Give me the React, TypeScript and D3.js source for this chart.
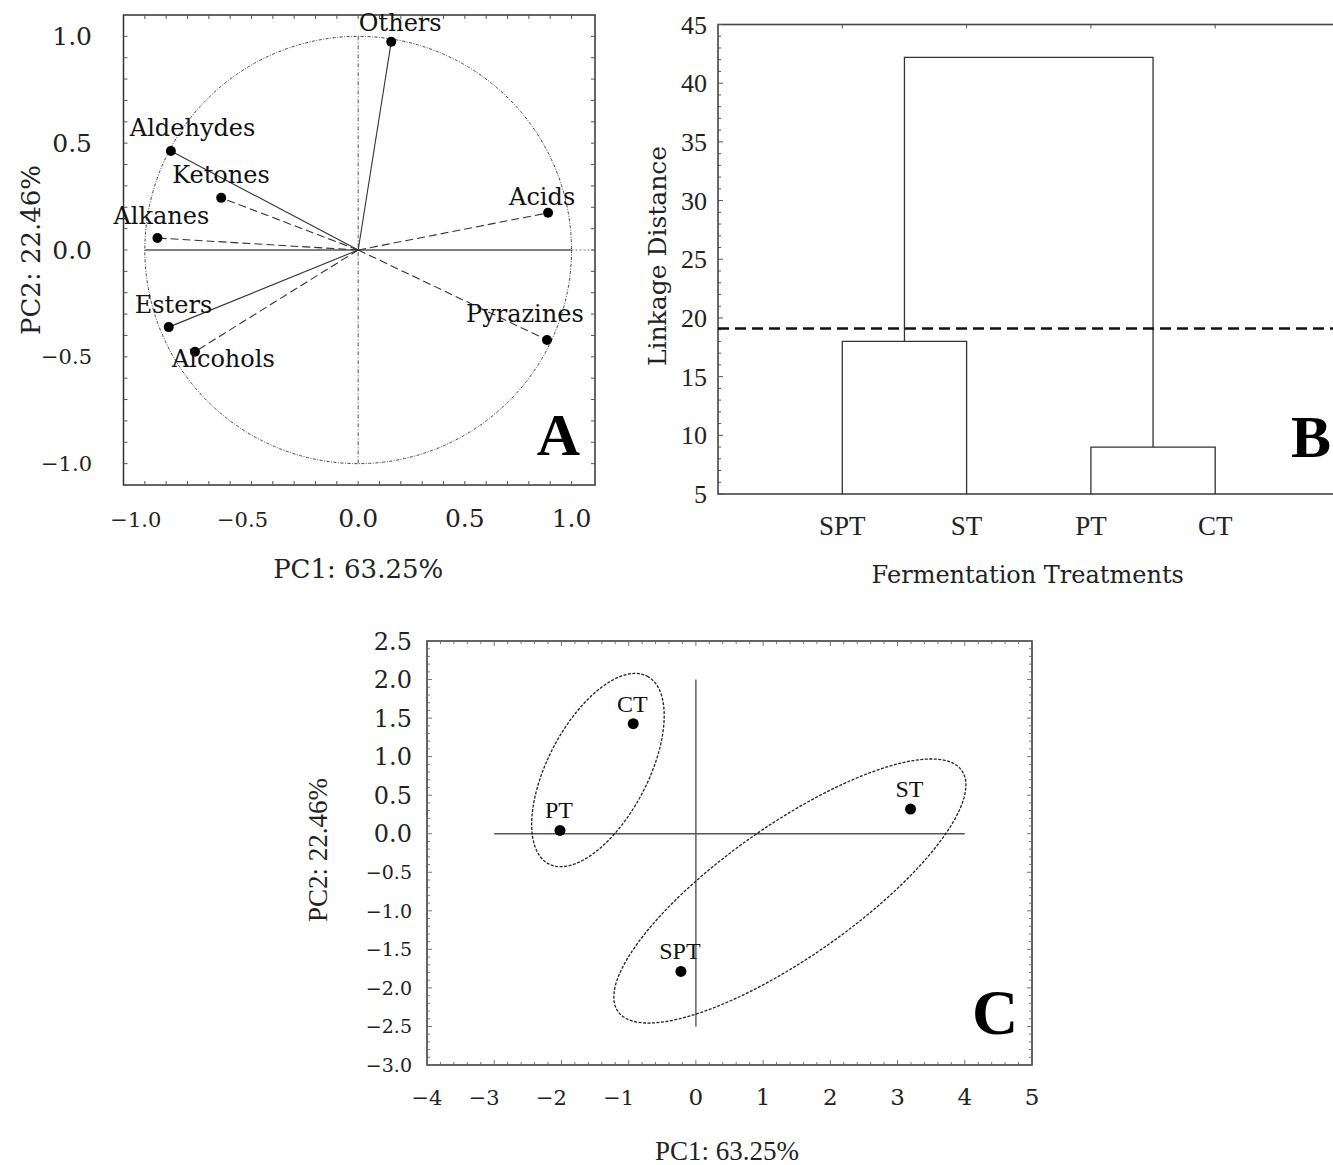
import React from "react";
import * as d3 from "d3";

const W = 1333;
const H = 1165;

// ---------- Panel A: PCA loadings ----------
const loadingNames = ["Others", "Aldehydes", "Ketones", "Alkanes", "Acids", "Esters", "Alcohols", "Pyrazines"];
const loadingPC1 = [0.155, -0.878, -0.642, -0.941, 0.89, -0.888, -0.765, 0.885];
const loadingPC2 = [0.975, 0.463, 0.244, 0.056, 0.174, -0.361, -0.476, -0.421];
const loadingDashed = [false, false, true, true, true, false, true, true];
const loadingTicks = [-1.0, -0.5, 0.0, 0.5, 1.0];

// ---------- Panel B: dendrogram ----------
const leafNames = ["SPT", "ST", "PT", "CT"];
const mergeIds = ["C1", "C2", "C3"];
const mergeLeft = ["SPT", "PT", "C1"];
const mergeRight = ["ST", "CT", "C2"];
const mergeHeight = [18.0, 9.0, 42.2];
const cutoffDistance = 19.1;
const linkageTicks = [5, 10, 15, 20, 25, 30, 35, 40, 45];

// ---------- Panel C: PCA scores ----------
const scoreNames = ["CT", "PT", "ST", "SPT"];
const scorePC1 = [-0.932, -2.022, 3.193, -0.223];
const scorePC2 = [1.427, 0.043, 0.32, -1.786];
const ellipseCenterPC1 = [-1.457, 1.398];
const ellipseCenterPC2 = [0.826, -0.743];
const ellipseAxisU = [[0.734, 1.217], [2.558, 1.563]];
const ellipseAxisV = [[0.658, -0.302], [0.563, -0.701]];
const scoreTicksX = [-4, -3, -2, -1, 0, 1, 2, 3, 4, 5];
const scoreTicksY = [-3.0, -2.5, -2.0, -1.5, -1.0, -0.5, 0.0, 0.5, 1.0, 1.5, 2.0, 2.5];

const wide = "'DejaVu Serif', serif";
const times = "'Liberation Serif', 'Times New Roman', serif";

// label offsets (styling only)
const labelOffsets: Record<string, [number, number, string]> = {
  Others: [9, -11, "middle"],
  Aldehydes: [-41, -15, "start"],
  Ketones: [-49, -15, "start"],
  Alkanes: [-44, -14, "start"],
  Acids: [-39, -8, "start"],
  Esters: [-34, -14, "start"],
  Alcohols: [-23, 15, "start"],
  Pyrazines: [-81, -18, "start"],
};

function PanelA() {
  const x = d3.scaleLinear().domain([-1.1, 1.11]).range([123.5, 595]);
  const y = d3.scaleLinear().domain([-1.1, 1.1]).range([485, 15]);
  const fmt = d3.format(".1f");
  const minor = d3.range(-11, 12).map((i) => i / 10).filter((v) => v > -1.1 && v < 1.1);
  const x0 = x(0), y0 = y(0);
  return (
    <g>
      <rect x={x(-1.1)} y={y(1.1)} width={x(1.11) - x(-1.1)} height={y(-1.1) - y(1.1)} fill="none" stroke="#333" strokeWidth={1.5} />
      {minor.map((v, i) => (
        <g key={"m" + i} stroke="#555" strokeWidth={1}>
          <line x1={x(v)} x2={x(v)} y1={y(-1.1)} y2={y(-1.1) - 4} />
          <line x1={x(v)} x2={x(v)} y1={y(1.1)} y2={y(1.1) + 4} />
          <line x1={x(-1.1)} x2={x(-1.1) + 4} y1={y(v)} y2={y(v)} />
          <line x1={x(1.11)} x2={x(1.11) - 4} y1={y(v)} y2={y(v)} />
        </g>
      ))}
      {/* unit circle */}
      <ellipse cx={x0} cy={y0} rx={x(1) - x0} ry={y0 - y(1)} fill="none" stroke="#444" strokeWidth={1} strokeDasharray="3,1.5,1,1.5" />
      {/* axes */}
      <line x1={x(-1)} x2={x(1)} y1={y0} y2={y0} stroke="#555" strokeWidth={1.3} />
      <line x1={x(1)} x2={x(1.11)} y1={y0} y2={y0} stroke="#777" strokeWidth={1} strokeDasharray="2,2" />
      <line x1={x0} x2={x0} y1={y(1)} y2={y(-1)} stroke="#555" strokeWidth={1} strokeDasharray="4,2,1,2" />
      {/* vectors */}
      {loadingNames.map((n, i) => (
        <line key={"v" + n} x1={x0} y1={y0} x2={x(loadingPC1[i])} y2={y(loadingPC2[i])} stroke="#333" strokeWidth={1.1} strokeDasharray={loadingDashed[i] ? "8,4" : undefined} />
      ))}
      {loadingNames.map((n, i) => (
        <circle key={"p" + n} cx={x(loadingPC1[i])} cy={y(loadingPC2[i])} r={5} fill="#000" />
      ))}
      {loadingNames.map((n, i) => {
        const o = labelOffsets[n];
        return (
          <text key={"t" + n} x={x(loadingPC1[i]) + o[0]} y={y(loadingPC2[i]) + o[1]} textAnchor={o[2] as any} fontFamily={wide} fontSize={24} fill="#111">
            {n}
          </text>
        );
      })}
      {/* tick labels */}
      {loadingTicks.map((v) => (
        <text key={"xt" + v} x={x(v) + (v < 0 ? -9 : 0)} y={527} textAnchor="middle" fontFamily={wide} fontSize={v < 0 ? 21 : 25} fill="#222">
          {fmt(v)}
        </text>
      ))}
      {loadingTicks.map((v) => (
        <text key={"yt" + v} x={92} y={y(v) + (v < 0 ? 7 : 9)} textAnchor="end" fontFamily={wide} fontSize={v < 0 ? 21 : 25} fill="#222">
          {fmt(v)}
        </text>
      ))}
      <text x={x0} y={578} textAnchor="middle" fontFamily={wide} fontSize={26} fill="#222">PC1: 63.25%</text>
      <text transform={`translate(40,${y0}) rotate(-90)`} textAnchor="middle" fontFamily={wide} fontSize={26} fill="#222">PC2: 22.46%</text>
      <text x={580} y={455} textAnchor="end" fontFamily={times} fontWeight="bold" fontSize={60} fill="#000">A</text>
    </g>
  );
}

function PanelB() {
  const x = d3.scaleLinear().domain([0, 5]).range([718, 1339.5]);
  const y = d3.scaleLinear().domain([5, 45]).range([494, 24.5]);
  const pos: Record<string, number> = {};
  const hgt: Record<string, number> = {};
  leafNames.forEach((n, i) => { pos[n] = i + 1; hgt[n] = 5; });
  const links: string[] = [];
  mergeIds.forEach((id, i) => {
    const a = mergeLeft[i], b = mergeRight[i], h = mergeHeight[i];
    const path = d3.path();
    path.moveTo(x(pos[a]), y(hgt[a]));
    path.lineTo(x(pos[a]), y(h));
    path.lineTo(x(pos[b]), y(h));
    path.lineTo(x(pos[b]), y(hgt[b]));
    links.push(path.toString());
    pos[id] = (pos[a] + pos[b]) / 2;
    hgt[id] = h;
  });
  const minor = d3.range(5, 46, 1);
  return (
    <g>
      <rect x={x(0)} y={y(45)} width={x(5) - x(0)} height={y(5) - y(45)} fill="none" stroke="#444" strokeWidth={1.6} />
      {minor.map((v) => (
        <line key={"bm" + v} x1={x(0)} x2={x(0) + (v % 5 === 0 ? 5 : 3)} y1={y(v)} y2={y(v)} stroke="#555" strokeWidth={1} />
      ))}
      {leafNames.map((n, i) => (
        <g key={"bt" + n} stroke="#555" strokeWidth={1}>
          <line x1={x(i + 1)} x2={x(i + 1)} y1={y(45)} y2={y(45) + 4} />
        </g>
      ))}
      {links.map((d, i) => (
        <path key={"l" + i} d={d} fill="none" stroke="#333" strokeWidth={1.3} />
      ))}
      <line x1={x(0)} x2={x(5)} y1={y(cutoffDistance)} y2={y(cutoffDistance)} stroke="#111" strokeWidth={2.3} strokeDasharray="11,6" />
      {linkageTicks.map((v) => (
        <text key={"byt" + v} x={707} y={y(v) + 9} textAnchor="end" fontFamily={times} fontSize={26} fill="#222">{v}</text>
      ))}
      {leafNames.map((n, i) => (
        <text key={"bx" + n} x={x(i + 1)} y={535} textAnchor="middle" fontFamily={times} fontSize={27} fill="#222">{n}</text>
      ))}
      <text x={(x(0) + x(5)) / 2 + softShift()} y={583} textAnchor="middle" fontFamily={wide} fontSize={24} fill="#222">Fermentation Treatments</text>
      <text transform={`translate(666,256) rotate(-90)`} textAnchor="middle" fontFamily={wide} fontSize={25} fill="#222">Linkage Distance</text>
      <text x={1291} y={457} textAnchor="start" fontFamily={times} fontWeight="bold" fontSize={60} fill="#000">B</text>
    </g>
  );
}

function softShift() {
  return -1;
}

function PanelC() {
  const x = d3.scaleLinear().domain([-4, 5]).range([427, 1032]);
  const y = d3.scaleLinear().domain([-3, 2.5]).range([1065, 641]);
  const ts = d3.range(0, 121).map((i) => (i / 120) * Math.PI * 2);
  const line = d3.line<[number, number]>().x((d) => x(d[0])).y((d) => y(d[1])).curve(d3.curveLinearClosed);
  const ellipses = ellipseCenterPC1.map((cx, k) => {
    const cy = ellipseCenterPC2[k];
    const U = ellipseAxisU[k], V = ellipseAxisV[k];
    const pts: [number, number][] = ts.slice(0, 120).map((t) => [cx + U[0] * Math.cos(t) + V[0] * Math.sin(t), cy + U[1] * Math.cos(t) + V[1] * Math.sin(t)]);
    return line(pts) as string;
  });
  const fmtY = d3.format(".1f");
  const fmtX = d3.format("d");
  const minorX = d3.range(-40, 51, 2).map((i) => i / 10);
  const minorY = d3.range(-30, 26, 1).map((i) => i / 10);
  return (
    <g>
      <rect x={x(-4)} y={y(2.5)} width={x(5) - x(-4)} height={y(-3) - y(2.5)} fill="none" stroke="#333" strokeWidth={1.5} />
      {minorX.map((v, i) => (
        <g key={"cmx" + i} stroke="#666" strokeWidth={0.9}>
          <line x1={x(v)} x2={x(v)} y1={y(-3)} y2={y(-3) - (Number.isInteger(v) ? 5 : 3)} />
          <line x1={x(v)} x2={x(v)} y1={y(2.5)} y2={y(2.5) + (Number.isInteger(v) ? 5 : 3)} />
        </g>
      ))}
      {minorY.map((v, i) => (
        <g key={"cmy" + i} stroke="#666" strokeWidth={0.9}>
          <line x1={x(-4)} x2={x(-4) + (Math.abs(v * 2 - Math.round(v * 2)) < 1e-6 ? 5 : 3)} y1={y(v)} y2={y(v)} />
          <line x1={x(5)} x2={x(5) - (Math.abs(v * 2 - Math.round(v * 2)) < 1e-6 ? 5 : 3)} y1={y(v)} y2={y(v)} />
        </g>
      ))}
      <line x1={x(-3)} x2={x(4)} y1={y(0)} y2={y(0)} stroke="#555" strokeWidth={1.4} />
      <line x1={x(0)} x2={x(0)} y1={y(2)} y2={y(-2.5)} stroke="#555" strokeWidth={1.4} />
      {ellipses.map((d, i) => (
        <path key={"e" + i} d={d} fill="none" stroke="#222" strokeWidth={1.3} strokeDasharray="3,1.5" />
      ))}
      {scoreNames.map((n, i) => (
        <circle key={"cp" + n} cx={x(scorePC1[i])} cy={y(scorePC2[i])} r={5.5} fill="#000" />
      ))}
      {scoreNames.map((n, i) => (
        <text key={"ct" + n} x={x(scorePC1[i]) - 1} y={y(scorePC2[i]) - 12} textAnchor="middle" fontFamily={times} fontSize={24} fill="#111">{n}</text>
      ))}
      {scoreTicksY.map((v) => (
        <text key={"cyt" + v} x={412} y={y(v) + (v < 0 ? 7 : 8.5)} textAnchor="end" fontFamily={wide} fontSize={v < 0 ? 19 : 24} fill="#222">{fmtY(v)}</text>
      ))}
      {scoreTicksX.map((v) => (
        <text key={"cxt" + v} x={x(v) + (v < 0 && v > -4 ? -10 : 0)} y={1105} textAnchor="middle" fontFamily={wide} fontSize={v < 0 ? 21 : 23} fill="#222">{fmtX(v)}</text>
      ))}
      <text x={727} y={1160} textAnchor="middle" fontFamily={times} fontSize={27} fill="#222">PC1: 63.25%</text>
      <text transform={`translate(327,850) rotate(-90)`} textAnchor="middle" fontFamily={times} fontSize={27} fill="#222">PC2: 22.46%</text>
      <text x={972} y={1034} textAnchor="start" fontFamily={times} fontWeight="bold" fontSize={64} fill="#000">C</text>
    </g>
  );
}

export default function App() {
  return (
    <svg width={W} height={H} viewBox={`0 0 ${W} ${H}`} style={{ position: "absolute", left: 0, top: 0, background: "#fff" }}>
      <rect x={0} y={0} width={W} height={H} fill="#fff" />
      <PanelA />
      <PanelB />
      <PanelC />
    </svg>
  );
}
